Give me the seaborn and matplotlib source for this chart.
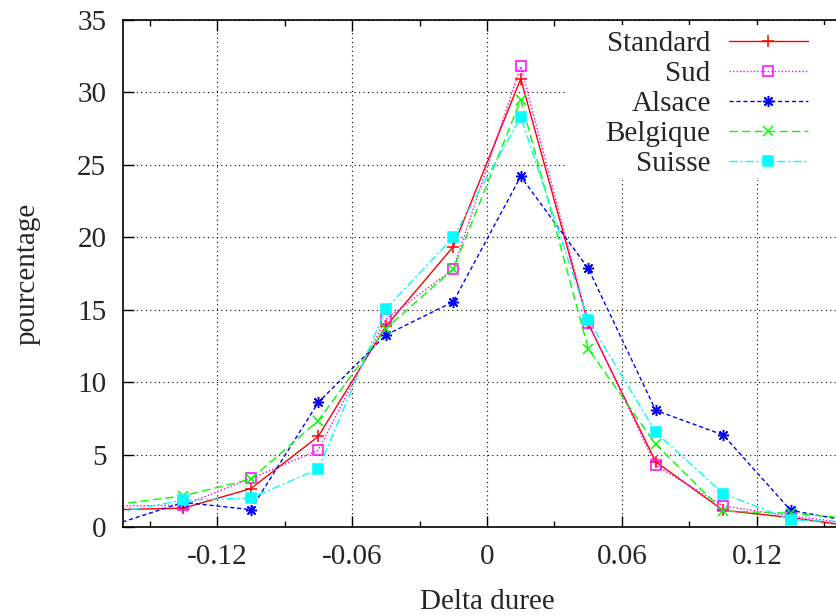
import numpy as np
import pandas as pd
import matplotlib
matplotlib.use("Agg")
import matplotlib.pyplot as plt
import seaborn as sns
from matplotlib.ticker import MultipleLocator, FixedLocator
from matplotlib.patches import Rectangle

# bins of "Delta duree" (outer points fall just outside the visible range)
delta = [-0.165, -0.135, -0.105, -0.075, -0.045, -0.015,
         0.015, 0.045, 0.075, 0.105, 0.135, 0.165]

standard = [1.2, 1.3, 2.65, 6.25, 13.85, 19.35, 30.95, 14.05, 4.5, 1.15, 0.65, 0.0]
sud = [1.45, 1.5, 3.35, 5.3, 14.35, 17.8, 31.8, 14.1, 4.25, 1.45, 0.75, 0.2]
alsace = [0.2, 1.7, 1.2, 8.6, 13.25, 15.55, 24.2, 17.85, 8.05, 6.35, 1.15, 0.3]
belgique = [1.55, 2.15, 3.3, 7.35, 13.7, 17.8, 29.5, 12.3, 5.7, 1.1, 0.95, 0.55]
suisse = [1.0, 1.85, 2.0, 4.0, 15.05, 20.0, 28.3, 14.3, 6.55, 2.3, 0.5, 0.3]

series_names = ["Standard", "Sud", "Alsace", "Belgique", "Suisse"]
series_values = [standard, sud, alsace, belgique, suisse]

x_ticks = [-0.12, -0.06, 0, 0.06, 0.12]
x_tick_labels = ["-0.12", "-0.06", "0", "0.06", "0.12"]

df = pd.DataFrame({
    "delta": np.tile(delta, len(series_names)),
    "pct": np.concatenate(series_values),
    "serie": np.repeat(series_names, len(delta)),
})

sns.set_style("ticks")
plt.rcParams["font.family"] = ["Liberation Serif", "DejaVu Serif"]
plt.rcParams["axes.unicode_minus"] = False

# gnuplot-like styles
styles = {
    "Standard": dict(color="#ff0000", marker="+", ls="-", ms=8, mfc="none"),
    "Sud": dict(color="#ff00ff", marker="s", ls=(0, (1, 1.5)), ms=6.5, mfc="none"),
    "Alsace": dict(color="#0000ff", marker=(8, 2, 0), ls=(0, (3, 2)), ms=8, mfc="none"),
    "Belgique": dict(color="#00ff00", marker="x", ls=(0, (6, 3)), ms=7, mfc="none"),
    "Suisse": dict(color="#00ffff", marker="s", ls=(0, (6, 2, 1.5, 2)), ms=6.5, mfc="#00ffff"),
}

fig = plt.figure(figsize=(8.36, 6.16), dpi=100)
ax = fig.add_axes([123 / 836, 89 / 616, 728 / 836, 507 / 616])

for name in series_names:
    st = styles[name]
    sns.lineplot(data=df[df["serie"] == name], x="delta", y="pct", ax=ax,
                 color=st["color"], marker=st["marker"], linestyle=st["ls"],
                 markersize=st["ms"], markerfacecolor=st["mfc"],
                 markeredgecolor=st["color"], markeredgewidth=1.1,
                 linewidth=1, label=name, clip_on=True)

ax.set_xlim(-0.1618, 0.1618)
ax.set_ylim(0, 35)
ax.xaxis.set_major_locator(FixedLocator(x_ticks))
ax.set_xticklabels(x_tick_labels)
ax.xaxis.set_minor_locator(FixedLocator([-0.15, -0.09, -0.03, 0.03, 0.09, 0.15]))
ax.yaxis.set_major_locator(MultipleLocator(5))

ax.tick_params(which="both", direction="in", top=True, right=True,
               labelsize=21, width=1, color="black")
ax.tick_params(which="major", length=8)
ax.tick_params(which="minor", length=4)
ax.tick_params(axis="y", pad=12)
ax.tick_params(axis="x", pad=12)

ax.grid(True, which="major", color="black", linestyle=(0, (1, 3)), linewidth=0.8)
for sp in ax.spines.values():
    sp.set_linewidth(1.2)
    sp.set_color("black")

# white key area hiding the grid, as gnuplot does
ax.add_patch(Rectangle((0.607, 0.684), 0.5, 0.306, transform=ax.transAxes,
                       facecolor="white", edgecolor="none", zorder=1))

ax.set_xlabel("Delta duree", fontsize=21, labelpad=14)
ax.set_ylabel("pourcentage", fontsize=21, labelpad=26)

leg = ax.legend(loc="upper right", bbox_to_anchor=(0.941, 1.0 - 11 / 507),
                markerfirst=False, fontsize=21, frameon=False,
                handlelength=2.72, handletextpad=0.62, labelspacing=0.12,
                borderpad=0, borderaxespad=0)

fig.savefig("out.png", dpi=100)
